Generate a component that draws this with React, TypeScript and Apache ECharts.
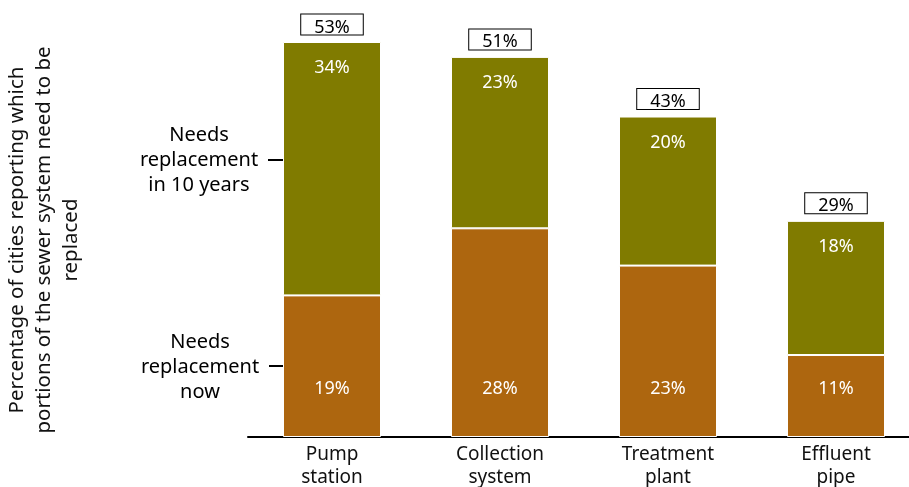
import React, { useEffect, useRef } from "react";
import * as echarts from "echarts";

const categories = ["Pump\nstation", "Collection\nsystem", "Treatment\nplant", "Effluent\npipe"];
const needsNow = [19, 28, 23, 11];
const needsIn10Years = [34, 23, 20, 18];
const totals = [53, 51, 43, 29];

const FONT = "'Noto Sans', 'DejaVu Sans', sans-serif";
const NOW_COLOR = "#AD660F";
const LATER_COLOR = "#807B00";

export default function App() {
  const ref = useRef<HTMLDivElement>(null);

  useEffect(() => {
    if (!ref.current) return;
    const chart = echarts.init(ref.current, null, { renderer: "svg" });
    chart.setOption({
      animation: false,
      textStyle: { fontFamily: FONT },
      grid: {
        left: 248,
        width: 672,
        top: 42,
        height: 395,
        containLabel: false,
        outerBoundsMode: "none",
      },
      xAxis: {
        type: "category",
        data: categories,
        axisLine: { lineStyle: { color: "#000", width: 2 } },
        axisTick: { show: false },
        axisLabel: { color: "#111", fontSize: 19, lineHeight: 23, margin: 4, fontFamily: FONT },
      },
      yAxis: { type: "value", min: 0, max: 53, show: false, splitLine: { show: false } },
      series: [
        {
          name: "Needs replacement now",
          type: "bar",
          stack: "total",
          data: needsNow,
          barWidth: 98,
          itemStyle: { color: NOW_COLOR, borderColor: "#fff", borderWidth: 1 },
          label: {
            show: true,
            position: "insideBottom",
            distance: 41,
            color: "#fff",
            fontSize: 18,
            fontFamily: FONT,
            formatter: "{c}%",
          },
        },
        {
          name: "Needs replacement in 10 years",
          type: "bar",
          stack: "total",
          data: needsIn10Years,
          barWidth: 98,
          itemStyle: { color: LATER_COLOR, borderColor: "#fff", borderWidth: 1 },
          label: {
            show: true,
            position: "insideTop",
            distance: 15,
            color: "#fff",
            fontSize: 18,
            fontFamily: FONT,
            formatter: "{c}%",
          },
        },
        {
          name: "Total",
          type: "line",
          data: totals,
          symbol: "circle",
          symbolSize: 1,
          itemStyle: { color: "rgba(0,0,0,0)" },
          lineStyle: { opacity: 0 },
          silent: true,
          label: {
            show: true,
            position: "top",
            distance: 7,
            color: "#000",
            fontSize: 18,
            fontFamily: FONT,
            formatter: "{c}%",
            backgroundColor: "#fff",
            borderColor: "#000",
            borderWidth: 1,
            padding: [2, 13, 0, 13],
          },
        },
      ],
      graphic: [
        {
          type: "text",
          x: 42,
          y: 240,
          rotation: Math.PI / 2,
          style: {
            text: "Percentage of cities reporting which\nportions of the sewer system need to be\nreplaced",
            font: `20.5px ${FONT}`,
            fill: "#111",
            align: "center",
            verticalAlign: "middle",
            lineHeight: 27,
          },
        },
        {
          type: "text",
          x: 199,
          y: 158,
          style: {
            text: "Needs\nreplacement\nin 10 years",
            font: `20px ${FONT}`,
            fill: "#000",
            align: "center",
            verticalAlign: "middle",
            lineHeight: 25,
          },
        },
        {
          type: "line",
          shape: { x1: 268, y1: 160, x2: 291, y2: 160 },
          style: { stroke: "#000", lineWidth: 2 },
        },
        {
          type: "text",
          x: 200,
          y: 365,
          style: {
            text: "Needs\nreplacement\nnow",
            font: `20px ${FONT}`,
            fill: "#000",
            align: "center",
            verticalAlign: "middle",
            lineHeight: 25,
          },
        },
        {
          type: "line",
          shape: { x1: 269, y1: 366, x2: 292, y2: 366 },
          style: { stroke: "#000", lineWidth: 2 },
        },
      ],
    });
    return () => chart.dispose();
  }, []);

  return (
    <div
      ref={ref}
      style={{ position: "fixed", left: 0, top: 0, width: 909, height: 487 }}
    />
  );
}
